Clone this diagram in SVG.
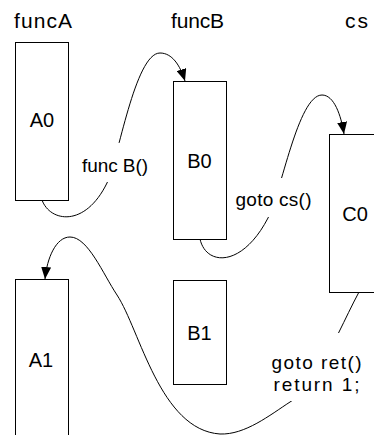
<svg xmlns="http://www.w3.org/2000/svg" width="374" height="435" viewBox="0 0 374 435">
<style>
.box{fill:#fff;stroke:#000;stroke-width:1}
.t{font-family:"Liberation Sans",Arial,Helvetica,sans-serif;fill:#000;text-anchor:middle}
.h{font-size:21px}
.n{font-size:20px}
.e{font-size:19px}
.r{font-size:19px}
.c{fill:none;stroke:#000;stroke-width:1}
.bg{fill:#fff;stroke:none}
</style>
<defs>
<marker id="arr" markerUnits="userSpaceOnUse" markerWidth="13" markerHeight="10" refX="12" refY="5" orient="auto" viewBox="0 0 13 10">
<path d="M0,0 L12,5 L0,10 z" fill="#000"/>
</marker>
</defs>
<rect width="374" height="435" fill="#fff"/>
<g id="headers">
<text class="t h" x="43" y="28" textLength="58" lengthAdjust="spacing">funcA</text>
<text class="t h" x="197.5" y="28" textLength="53" lengthAdjust="spacing">funcB</text>
<text class="t h" x="356.5" y="28" textLength="23" lengthAdjust="spacing">cs</text>
</g>
<g id="A0"><rect class="box" x="15.5" y="42.5" width="53" height="158"/><text class="t n" x="42" y="127">A0</text></g>
<g id="B0"><rect class="box" x="173.5" y="81.5" width="53" height="158"/><text class="t n" x="199.5" y="168">B0</text></g>
<g id="C0"><rect class="box" x="329.5" y="134.5" width="53" height="158"/><text class="t n" x="355" y="221">C0</text></g>
<g id="A1"><rect class="box" x="15.5" y="279.5" width="53" height="162"/><text class="t n" x="41" y="367">A1</text></g>
<g id="B1"><rect class="box" x="173.5" y="280.5" width="53" height="104"/><text class="t n" x="199.5" y="340">B1</text></g>
<g id="connectors">
<path class="c" marker-end="url(#arr)" d="M42 200 C50 222,85 228,107 183 C118 160,135 53,160 53 C172 53,180 65,185 81"/>
<rect class="bg" x="78" y="143" width="72" height="39"/>
<text class="t e" x="115" y="172" textLength="66" lengthAdjust="spacing">func B()</text>
<path class="c" marker-end="url(#arr)" d="M200 239 C206 266,242 268,268 218 C281 193,298 95,322 95 C334 95,341 115,344 134"/>
<rect class="bg" x="232" y="178" width="84" height="39"/>
<text class="t e" x="273.5" y="206" textLength="76" lengthAdjust="spacing">goto cs()</text>
<path class="c" marker-end="url(#arr)" d="M359 292 C352 305,345 320,339 332 C325 360,310 390,290 402 C270 415,245 435,220 434 C160 430,140 330,117 295 C103 274,88 237,70 237 C56 237,47 258,45 279"/>
<rect class="bg" x="266" y="333" width="100" height="68"/>
<text class="t r" x="316.5" y="369" textLength="90" lengthAdjust="spacing">goto ret()</text>
<text class="t r" x="316.5" y="391" textLength="86" lengthAdjust="spacing">return 1;</text>
</g>
</svg>
